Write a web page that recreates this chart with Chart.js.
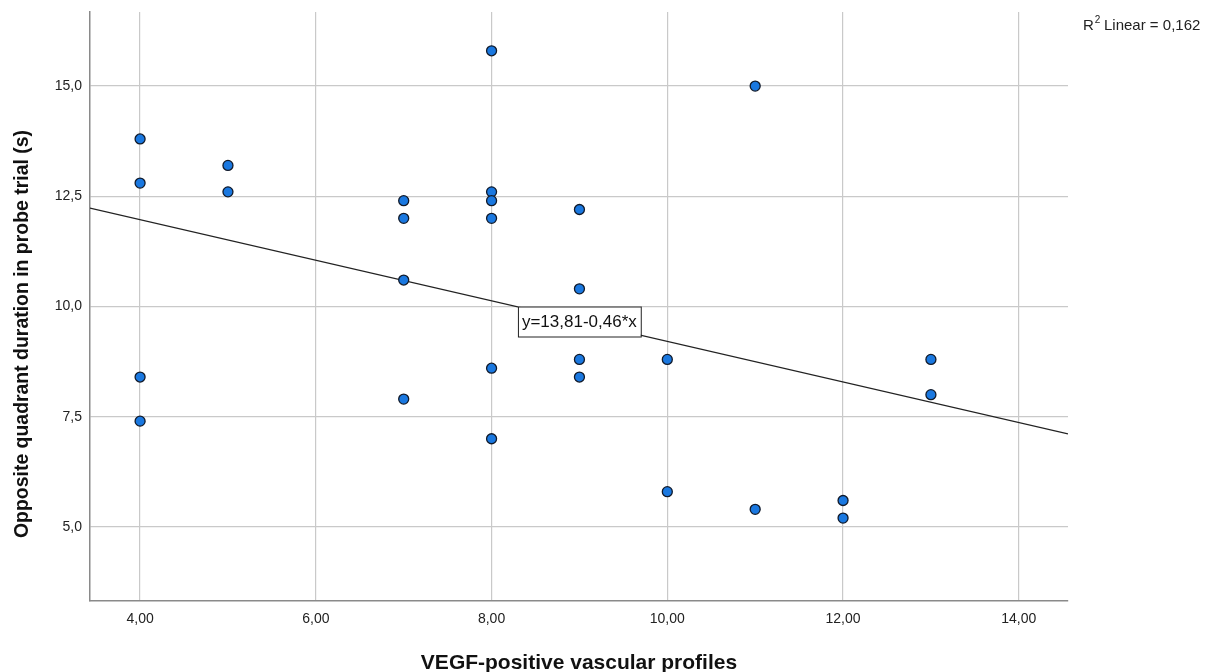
<!DOCTYPE html>
<html>
<head>
<meta charset="utf-8">
<script src="https://cdn.jsdelivr.net/npm/chart.js@4/dist/chart.umd.min.js"></script>
<style>
	html, body { margin: 0; padding: 0; background: #fff; }
	#wrap { width: 1208px; height: 672px; }
</style>
</head>
<body>
<div id="wrap"><canvas id="grafico"></canvas></div>
<script>
// dados
var vegfValues = [4, 4, 4, 4, 5, 5, 7, 7, 7, 7, 8, 8, 8, 8, 8, 8, 9, 9, 9, 9, 10, 10, 11, 11, 12, 12, 13, 13];
var duracaoValues = [13.8, 12.8, 8.4, 7.4, 13.2, 12.6, 12.4, 12.0, 10.6, 7.9, 15.8, 12.6, 12.4, 12.0, 8.6, 7.0, 12.2, 10.4, 8.8, 8.4, 8.8, 5.8, 15.0, 5.4, 5.6, 5.2, 8.8, 8.0];
var xTicks = [4, 6, 8, 10, 12, 14];
var yTicks = [5, 7.5, 10, 12.5, 15];
var intercepto = 13.81;
var inclinacao = -0.46;
var rQuadrado = 0.162;
var xMin = 3.43, xMax = 14.56;
var yMin = 3.32, yMax = 16.68;

var tituloX = "VEGF-positive vascular profiles";
var tituloY = "Opposite quadrant duration in probe trial (s)";

var fonte = "'Liberation Sans', Arial, sans-serif";

function virgula(v, casas) {
	return v.toFixed(casas).replace(".", ",");
}

var pontos = [];
for (var i = 0; i < vegfValues.length; i++) {
	pontos.push({ x: vegfValues[i], y: duracaoValues[i] });
}

// reta de regressão nos limites do eixo x
var linha = [
	{ x: xMin, y: intercepto + inclinacao * xMin },
	{ x: xMax, y: intercepto + inclinacao * xMax },
];

// Títulos, caixa com a equação e o R² no canto
var pluginTextos = {
	id: "textos",
	afterDatasetsDraw: function (chart) {
		var ctx = chart.ctx;
		var sx = chart.scales.x;
		var sy = chart.scales.y;
		ctx.save();

		var texto = "y=" + virgula(intercepto, 2) + "-" + virgula(-inclinacao, 2) + "*x";
		ctx.font = "17px " + fonte;
		var w = ctx.measureText(texto).width + 8;
		var left = sx.getPixelForValue(8.3);
		var top = sy.getPixelForValue(10);
		ctx.fillStyle = "#fff";
		ctx.fillRect(left, top, w, 30);
		ctx.strokeStyle = "#222";
		ctx.lineWidth = 1;
		ctx.strokeRect(left + 0.5, top + 0.5, w, 30);
		ctx.fillStyle = "#111";
		ctx.textBaseline = "middle";
		ctx.fillText(texto, left + 4, top + 16);

		// R² Linear
		ctx.font = "15px " + fonte;
		ctx.textBaseline = "alphabetic";
		ctx.fillStyle = "#222";
		var x0 = 1083;
		ctx.fillText("R", x0, 30);
		var wr = ctx.measureText("R").width;
		ctx.font = "10px " + fonte;
		ctx.fillText("2", x0 + wr + 1, 23);
		ctx.font = "15px " + fonte;
		ctx.fillText(" Linear = " + virgula(rQuadrado, 3), x0 + wr + 6, 30);

		// títulos dos eixos
		ctx.fillStyle = "#111";
		ctx.textAlign = "center";
		ctx.textBaseline = "middle";
		ctx.font = "bold 21px " + fonte;
		ctx.fillText(tituloX, (sx.left + sx.right) / 2, 663);

		ctx.translate(22, 334);
		ctx.rotate(-Math.PI / 2);
		ctx.font = "bold 20px " + fonte;
		var wt = ctx.measureText(tituloY).width;
		var escala = 408 / wt;
		ctx.scale(escala, 1);
		ctx.fillText(tituloY, 0, 0);
		ctx.restore();
	},
};

new Chart(document.getElementById("grafico"), {
	type: "scatter",
	data: {
		datasets: [
			{
				type: "line",
				data: linha,
				borderColor: "#222",
				borderWidth: 1.2,
				pointRadius: 0,
				fill: false,
				order: 2,
			},
			{
				data: pontos,
				backgroundColor: "#1a78e0",
				borderColor: "#111a2a",
				borderWidth: 1.3,
				pointRadius: 5,
				order: 1,
			},
		],
	},
	options: {
		responsive: true,
		maintainAspectRatio: false,
		animation: false,
		layout: { padding: { top: 12, right: 140, left: 0, bottom: 0 } },
		plugins: { legend: { display: false }, tooltip: { enabled: false } },
		scales: {
			x: {
				type: "linear",
				min: xMin,
				max: xMax,
				afterBuildTicks: function (scale) {
					scale.ticks = xTicks.map(function (v) { return { value: v }; });
				},
				afterFit: function (scale) {
					scale.height = 71;
					scale.paddingLeft = 0;
					scale.paddingRight = 0;
				},
				grid: { color: "#c9c9c9", lineWidth: 1.2, drawTicks: false },
				border: { display: true, color: "#8a8a8a", width: 1.5 },
				ticks: {
					padding: 10,
					color: "#222",
					font: { family: fonte, size: 14 },
					callback: function (v) { return virgula(v, 2); },
				},
			},
			y: {
				type: "linear",
				min: yMin,
				max: yMax,
				afterBuildTicks: function (scale) {
					scale.ticks = yTicks.map(function (v) { return { value: v }; });
				},
				afterFit: function (scale) {
					scale.width = 90;
					scale.paddingTop = 0;
					scale.paddingBottom = 0;
				},
				grid: { color: "#c9c9c9", lineWidth: 1.2, drawTicks: false },
				border: { display: true, color: "#8a8a8a", width: 1.5 },
				ticks: {
					padding: 8,
					color: "#222",
					font: { family: fonte, size: 14 },
					callback: function (v) { return virgula(v, 1); },
				},
			},
		},
	},
	plugins: [pluginTextos],
});
</script>
</body>
</html>
